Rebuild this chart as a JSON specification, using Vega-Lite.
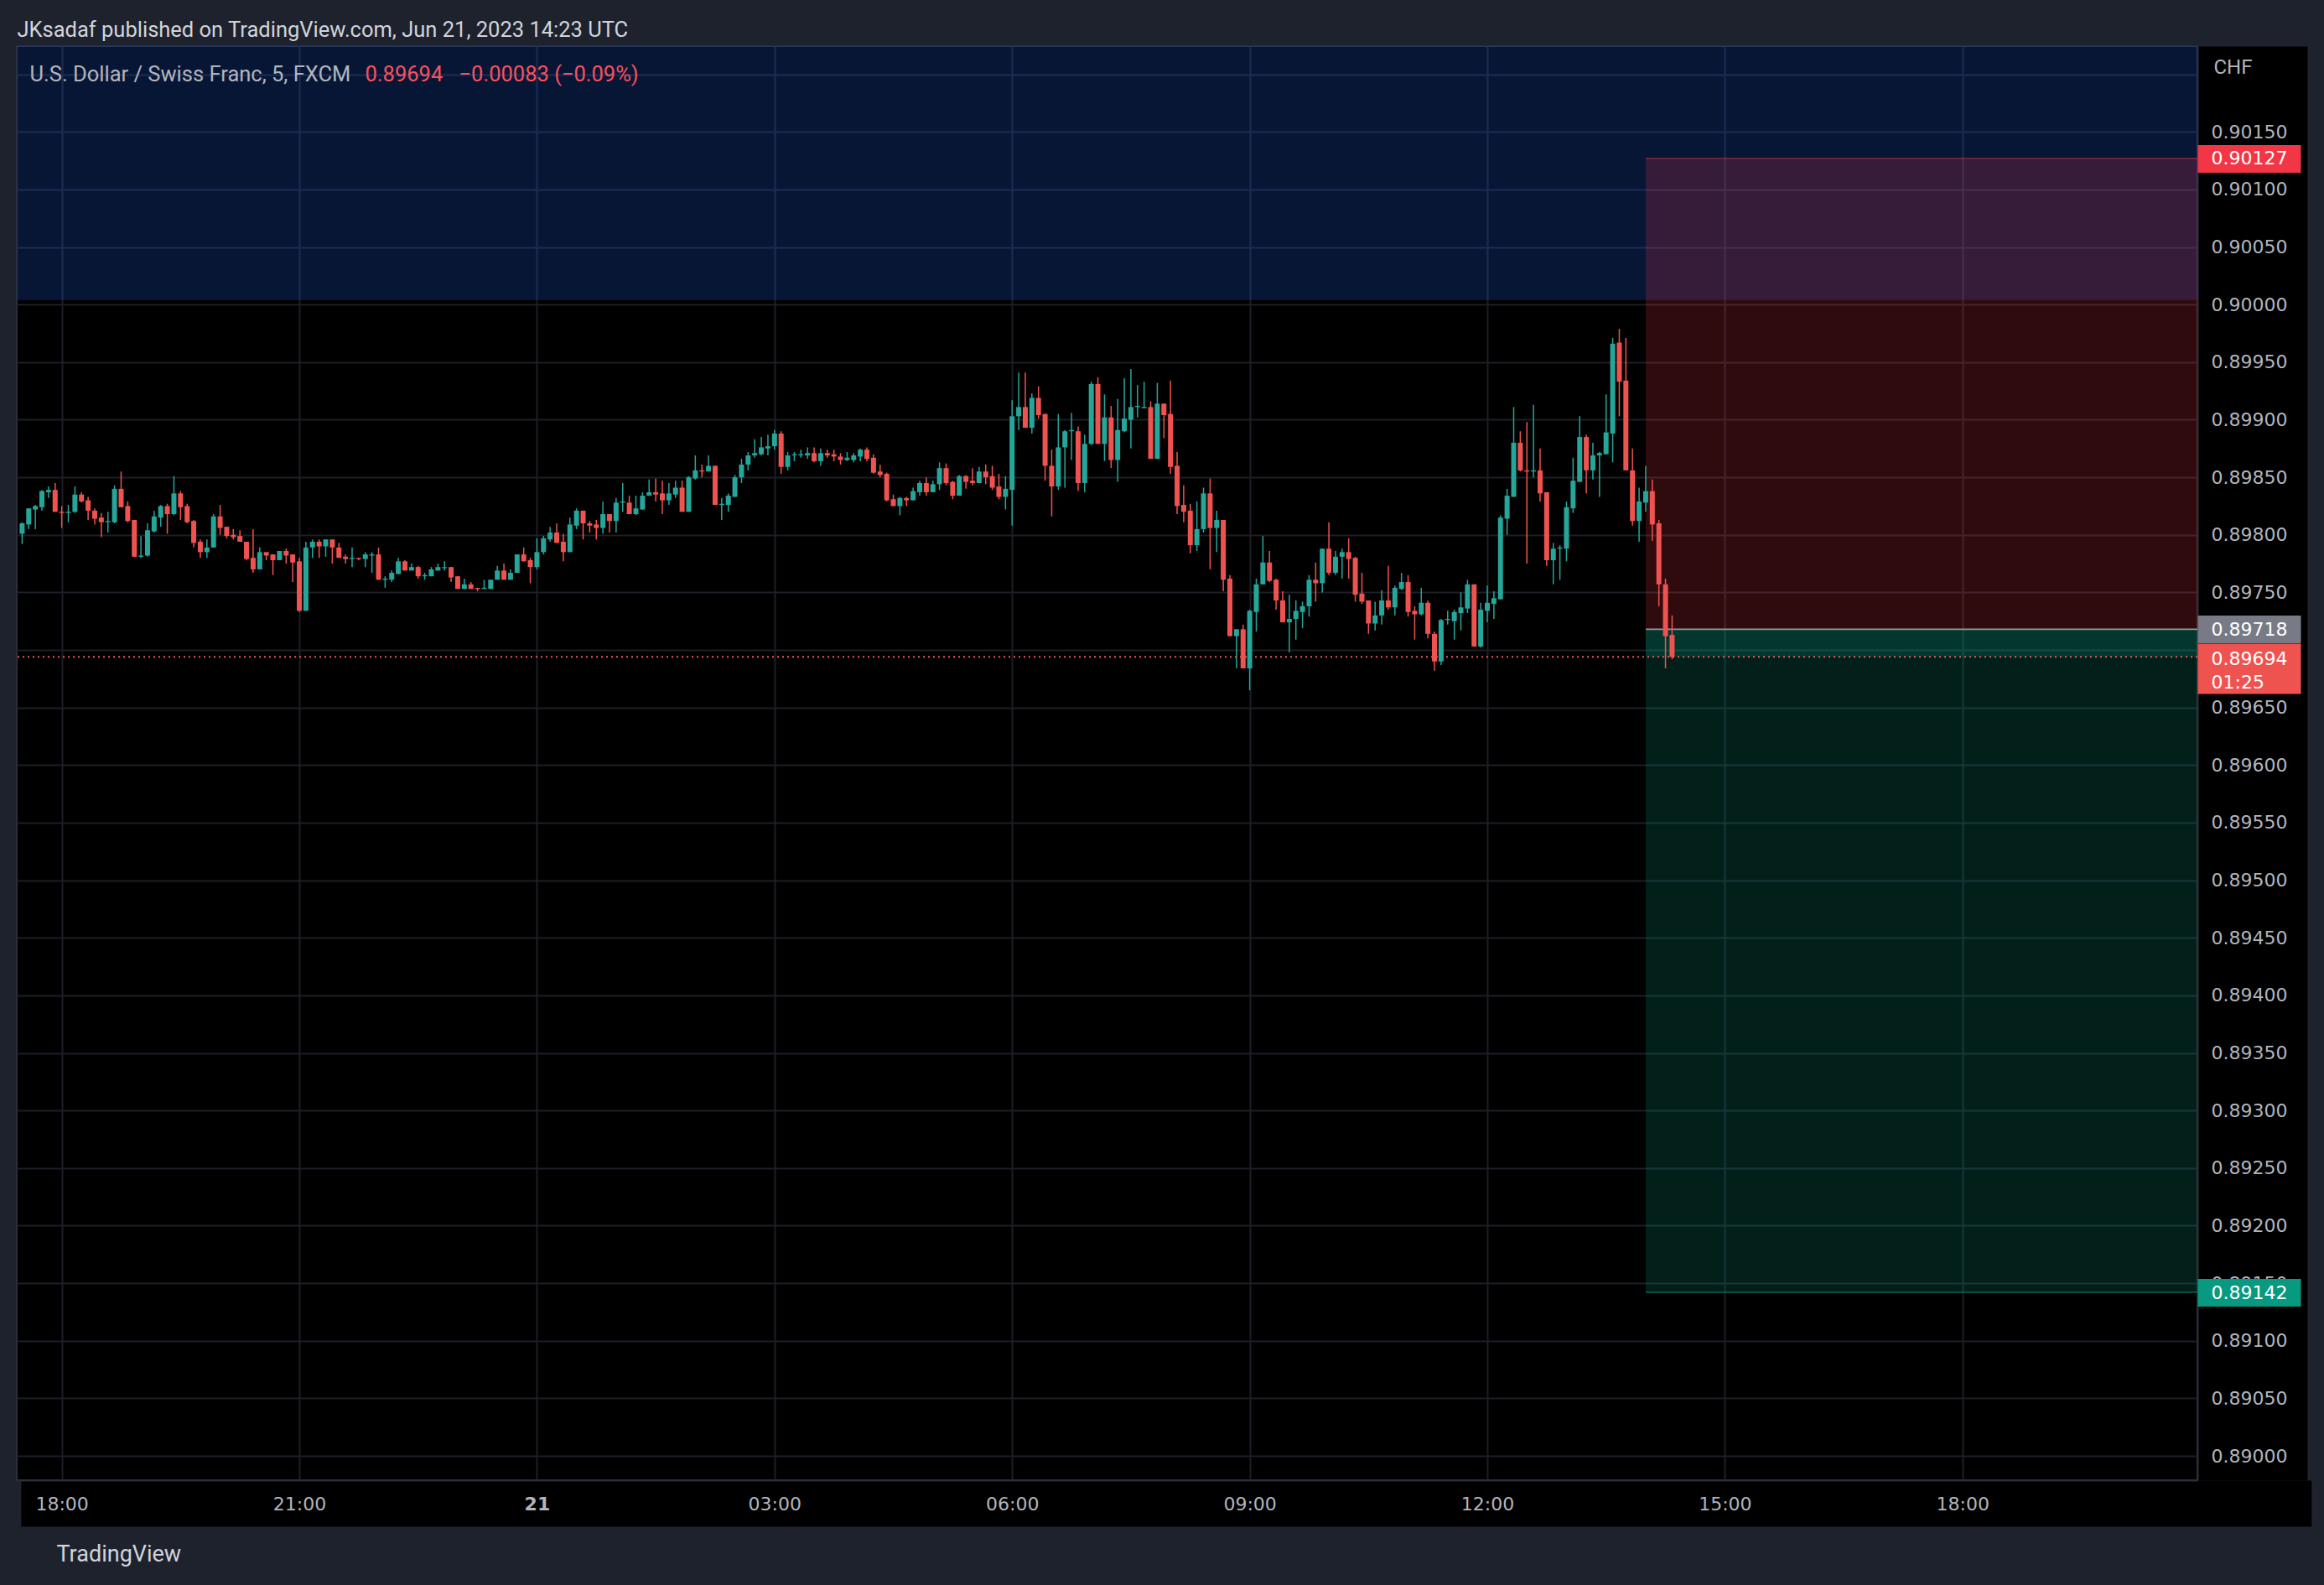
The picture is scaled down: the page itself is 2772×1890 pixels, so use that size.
{
"$schema": "https://vega.github.io/schema/vega-lite/v6.json",
"width": 2601,
"height": 1710,
"autosize": {"type": "none"},
"padding": {"left": 20, "top": 55, "right": 151, "bottom": 125},
"background": "#1e222d",
"config": {
  "view": {"fill": "#000000", "stroke": "#2a2e39", "strokeWidth": 2},
  "axis": {"labelFont": "DejaVu Sans", "labelFontSize": 22, "labelColor": "#b2b5be", "titleFont": "Roboto", "titleFontWeight": "normal", "labelOverlap": false, "labelFlush": false, "labelBound": false}
},
"resolve": {"axis": {"x": "independent", "y": "independent"}, "scale": {"x": "shared", "y": "shared"}},
"datasets": {
  "zones": [
    {"zone": "blue", "t1": "2023-06-20T12:00Z", "t2": "2023-06-22T06:00Z", "p1": 0.90004, "p2": 0.9035},
    {"zone": "stop", "t1": "2023-06-21T14:00Z", "t2": "2023-06-22T06:00Z", "p1": 0.89718, "p2": 0.90127},
    {"zone": "target", "t1": "2023-06-21T14:00Z", "t2": "2023-06-22T06:00Z", "p1": 0.89142, "p2": 0.89718},
    {"zone": "profit", "t1": "2023-06-21T14:00Z", "t2": "2023-06-22T06:00Z", "p1": 0.89694, "p2": 0.89718}
  ],
  "lines": [
    {"kind": "stop", "t1": "2023-06-21T14:00Z", "t2": "2023-06-22T06:00Z", "p": 0.90127},
    {"kind": "entry", "t1": "2023-06-21T14:00Z", "t2": "2023-06-22T06:00Z", "p": 0.89718},
    {"kind": "target", "t1": "2023-06-21T14:00Z", "t2": "2023-06-22T06:00Z", "p": 0.89142}
  ],
  "last": [{"p": 0.89694}],
  "candles": [
{"t":"2023-06-20T17:30Z","o":0.89801,"h":0.89811,"l":0.89792,"c":0.89810},
{"t":"2023-06-20T17:35Z","o":0.89809,"h":0.89823,"l":0.89805,"c":0.89823},
{"t":"2023-06-20T17:40Z","o":0.89822,"h":0.89826,"l":0.89805,"c":0.89825},
{"t":"2023-06-20T17:45Z","o":0.89824,"h":0.89839,"l":0.89821,"c":0.89838},
{"t":"2023-06-20T17:50Z","o":0.89837,"h":0.89842,"l":0.89832,"c":0.89839},
{"t":"2023-06-20T17:55Z","o":0.89839,"h":0.89845,"l":0.89820,"c":0.89820},
{"t":"2023-06-20T18:00Z","o":0.89820,"h":0.89825,"l":0.89806,"c":0.89819},
{"t":"2023-06-20T18:05Z","o":0.89819,"h":0.89826,"l":0.89811,"c":0.89820},
{"t":"2023-06-20T18:10Z","o":0.89820,"h":0.89842,"l":0.89819,"c":0.89835},
{"t":"2023-06-20T18:15Z","o":0.89835,"h":0.89837,"l":0.89828,"c":0.89829},
{"t":"2023-06-20T18:20Z","o":0.89830,"h":0.89833,"l":0.89813,"c":0.89821},
{"t":"2023-06-20T18:25Z","o":0.89821,"h":0.89823,"l":0.89809,"c":0.89814},
{"t":"2023-06-20T18:30Z","o":0.89815,"h":0.89819,"l":0.89798,"c":0.89811},
{"t":"2023-06-20T18:35Z","o":0.89811,"h":0.89820,"l":0.89802,"c":0.89812},
{"t":"2023-06-20T18:40Z","o":0.89811,"h":0.89843,"l":0.89810,"c":0.89840},
{"t":"2023-06-20T18:45Z","o":0.89840,"h":0.89855,"l":0.89824,"c":0.89824},
{"t":"2023-06-20T18:50Z","o":0.89825,"h":0.89829,"l":0.89811,"c":0.89812},
{"t":"2023-06-20T18:55Z","o":0.89813,"h":0.89813,"l":0.89781,"c":0.89781},
{"t":"2023-06-20T19:00Z","o":0.89781,"h":0.89799,"l":0.89780,"c":0.89782},
{"t":"2023-06-20T19:05Z","o":0.89782,"h":0.89810,"l":0.89781,"c":0.89804},
{"t":"2023-06-20T19:10Z","o":0.89803,"h":0.89821,"l":0.89802,"c":0.89816},
{"t":"2023-06-20T19:15Z","o":0.89815,"h":0.89826,"l":0.89807,"c":0.89825},
{"t":"2023-06-20T19:20Z","o":0.89825,"h":0.89827,"l":0.89801,"c":0.89818},
{"t":"2023-06-20T19:25Z","o":0.89818,"h":0.89851,"l":0.89817,"c":0.89836},
{"t":"2023-06-20T19:30Z","o":0.89836,"h":0.89838,"l":0.89813,"c":0.89824},
{"t":"2023-06-20T19:35Z","o":0.89825,"h":0.89827,"l":0.89810,"c":0.89811},
{"t":"2023-06-20T19:40Z","o":0.89812,"h":0.89813,"l":0.89789,"c":0.89793},
{"t":"2023-06-20T19:45Z","o":0.89794,"h":0.89796,"l":0.89780,"c":0.89785},
{"t":"2023-06-20T19:50Z","o":0.89785,"h":0.89796,"l":0.89780,"c":0.89789},
{"t":"2023-06-20T19:55Z","o":0.89789,"h":0.89818,"l":0.89789,"c":0.89816},
{"t":"2023-06-20T20:00Z","o":0.89816,"h":0.89826,"l":0.89800,"c":0.89806},
{"t":"2023-06-20T20:05Z","o":0.89807,"h":0.89807,"l":0.89797,"c":0.89799},
{"t":"2023-06-20T20:10Z","o":0.89800,"h":0.89805,"l":0.89796,"c":0.89798},
{"t":"2023-06-20T20:15Z","o":0.89799,"h":0.89804,"l":0.89794,"c":0.89794},
{"t":"2023-06-20T20:20Z","o":0.89794,"h":0.89794,"l":0.89778,"c":0.89779},
{"t":"2023-06-20T20:25Z","o":0.89780,"h":0.89805,"l":0.89767,"c":0.89770},
{"t":"2023-06-20T20:30Z","o":0.89770,"h":0.89789,"l":0.89770,"c":0.89785},
{"t":"2023-06-20T20:35Z","o":0.89785,"h":0.89785,"l":0.89778,"c":0.89782},
{"t":"2023-06-20T20:40Z","o":0.89783,"h":0.89783,"l":0.89765,"c":0.89778},
{"t":"2023-06-20T20:45Z","o":0.89778,"h":0.89786,"l":0.89778,"c":0.89786},
{"t":"2023-06-20T20:50Z","o":0.89786,"h":0.89788,"l":0.89775,"c":0.89782},
{"t":"2023-06-20T20:55Z","o":0.89783,"h":0.89783,"l":0.89759,"c":0.89776},
{"t":"2023-06-20T21:00Z","o":0.89777,"h":0.89780,"l":0.89733,"c":0.89734},
{"t":"2023-06-20T21:05Z","o":0.89734,"h":0.89794,"l":0.89734,"c":0.89789},
{"t":"2023-06-20T21:10Z","o":0.89789,"h":0.89796,"l":0.89780,"c":0.89794},
{"t":"2023-06-20T21:15Z","o":0.89794,"h":0.89796,"l":0.89780,"c":0.89790},
{"t":"2023-06-20T21:20Z","o":0.89790,"h":0.89796,"l":0.89781,"c":0.89796},
{"t":"2023-06-20T21:25Z","o":0.89796,"h":0.89796,"l":0.89775,"c":0.89789},
{"t":"2023-06-20T21:30Z","o":0.89789,"h":0.89793,"l":0.89780,"c":0.89780},
{"t":"2023-06-20T21:35Z","o":0.89781,"h":0.89783,"l":0.89775,"c":0.89779},
{"t":"2023-06-20T21:40Z","o":0.89779,"h":0.89789,"l":0.89772,"c":0.89780},
{"t":"2023-06-20T21:45Z","o":0.89780,"h":0.89780,"l":0.89778,"c":0.89779},
{"t":"2023-06-20T21:50Z","o":0.89779,"h":0.89785,"l":0.89772,"c":0.89783},
{"t":"2023-06-20T21:55Z","o":0.89782,"h":0.89785,"l":0.89767,"c":0.89783},
{"t":"2023-06-20T22:00Z","o":0.89783,"h":0.89789,"l":0.89761,"c":0.89761},
{"t":"2023-06-20T22:05Z","o":0.89761,"h":0.89764,"l":0.89754,"c":0.89762},
{"t":"2023-06-20T22:10Z","o":0.89761,"h":0.89769,"l":0.89759,"c":0.89767},
{"t":"2023-06-20T22:15Z","o":0.89766,"h":0.89780,"l":0.89766,"c":0.89777},
{"t":"2023-06-20T22:20Z","o":0.89777,"h":0.89778,"l":0.89769,"c":0.89769},
{"t":"2023-06-20T22:25Z","o":0.89769,"h":0.89775,"l":0.89769,"c":0.89772},
{"t":"2023-06-20T22:30Z","o":0.89772,"h":0.89773,"l":0.89762,"c":0.89764},
{"t":"2023-06-20T22:35Z","o":0.89764,"h":0.89767,"l":0.89761,"c":0.89765},
{"t":"2023-06-20T22:40Z","o":0.89764,"h":0.89772,"l":0.89764,"c":0.89770},
{"t":"2023-06-20T22:45Z","o":0.89769,"h":0.89775,"l":0.89769,"c":0.89772},
{"t":"2023-06-20T22:50Z","o":0.89771,"h":0.89777,"l":0.89769,"c":0.89772},
{"t":"2023-06-20T22:55Z","o":0.89772,"h":0.89772,"l":0.89759,"c":0.89763},
{"t":"2023-06-20T23:00Z","o":0.89764,"h":0.89764,"l":0.89753,"c":0.89753},
{"t":"2023-06-20T23:05Z","o":0.89753,"h":0.89762,"l":0.89753,"c":0.89757},
{"t":"2023-06-20T23:10Z","o":0.89757,"h":0.89759,"l":0.89753,"c":0.89753},
{"t":"2023-06-20T23:15Z","o":0.89754,"h":0.89754,"l":0.89751,"c":0.89753},
{"t":"2023-06-20T23:20Z","o":0.89753,"h":0.89761,"l":0.89753,"c":0.89754},
{"t":"2023-06-20T23:25Z","o":0.89753,"h":0.89761,"l":0.89753,"c":0.89761},
{"t":"2023-06-20T23:30Z","o":0.89761,"h":0.89773,"l":0.89761,"c":0.89769},
{"t":"2023-06-20T23:35Z","o":0.89769,"h":0.89775,"l":0.89761,"c":0.89761},
{"t":"2023-06-20T23:40Z","o":0.89761,"h":0.89770,"l":0.89761,"c":0.89767},
{"t":"2023-06-20T23:45Z","o":0.89767,"h":0.89783,"l":0.89767,"c":0.89783},
{"t":"2023-06-20T23:50Z","o":0.89783,"h":0.89789,"l":0.89777,"c":0.89777},
{"t":"2023-06-20T23:55Z","o":0.89778,"h":0.89780,"l":0.89758,"c":0.89772},
{"t":"2023-06-21T00:00Z","o":0.89772,"h":0.89797,"l":0.89770,"c":0.89785},
{"t":"2023-06-21T00:05Z","o":0.89785,"h":0.89799,"l":0.89783,"c":0.89797},
{"t":"2023-06-21T00:10Z","o":0.89796,"h":0.89807,"l":0.89794,"c":0.89802},
{"t":"2023-06-21T00:15Z","o":0.89802,"h":0.89810,"l":0.89793,"c":0.89793},
{"t":"2023-06-21T00:20Z","o":0.89794,"h":0.89801,"l":0.89777,"c":0.89785},
{"t":"2023-06-21T00:25Z","o":0.89785,"h":0.89815,"l":0.89785,"c":0.89809},
{"t":"2023-06-21T00:30Z","o":0.89808,"h":0.89823,"l":0.89805,"c":0.89821},
{"t":"2023-06-21T00:35Z","o":0.89821,"h":0.89821,"l":0.89796,"c":0.89810},
{"t":"2023-06-21T00:40Z","o":0.89810,"h":0.89812,"l":0.89802,"c":0.89808},
{"t":"2023-06-21T00:45Z","o":0.89809,"h":0.89813,"l":0.89796,"c":0.89806},
{"t":"2023-06-21T00:50Z","o":0.89806,"h":0.89829,"l":0.89801,"c":0.89818},
{"t":"2023-06-21T00:55Z","o":0.89818,"h":0.89818,"l":0.89802,"c":0.89812},
{"t":"2023-06-21T01:00Z","o":0.89812,"h":0.89832,"l":0.89802,"c":0.89828},
{"t":"2023-06-21T01:05Z","o":0.89828,"h":0.89845,"l":0.89820,"c":0.89829},
{"t":"2023-06-21T01:10Z","o":0.89828,"h":0.89834,"l":0.89818,"c":0.89818},
{"t":"2023-06-21T01:15Z","o":0.89818,"h":0.89834,"l":0.89817,"c":0.89823},
{"t":"2023-06-21T01:20Z","o":0.89822,"h":0.89837,"l":0.89822,"c":0.89834},
{"t":"2023-06-21T01:25Z","o":0.89834,"h":0.89848,"l":0.89834,"c":0.89837},
{"t":"2023-06-21T01:30Z","o":0.89837,"h":0.89849,"l":0.89829,"c":0.89835},
{"t":"2023-06-21T01:35Z","o":0.89836,"h":0.89847,"l":0.89818,"c":0.89830},
{"t":"2023-06-21T01:40Z","o":0.89830,"h":0.89845,"l":0.89826,"c":0.89836},
{"t":"2023-06-21T01:45Z","o":0.89835,"h":0.89847,"l":0.89832,"c":0.89841},
{"t":"2023-06-21T01:50Z","o":0.89841,"h":0.89847,"l":0.89820,"c":0.89820},
{"t":"2023-06-21T01:55Z","o":0.89820,"h":0.89851,"l":0.89820,"c":0.89850},
{"t":"2023-06-21T02:00Z","o":0.89849,"h":0.89869,"l":0.89848,"c":0.89856},
{"t":"2023-06-21T02:05Z","o":0.89856,"h":0.89861,"l":0.89850,"c":0.89855},
{"t":"2023-06-21T02:10Z","o":0.89855,"h":0.89869,"l":0.89855,"c":0.89860},
{"t":"2023-06-21T02:15Z","o":0.89860,"h":0.89860,"l":0.89826,"c":0.89826},
{"t":"2023-06-21T02:20Z","o":0.89826,"h":0.89832,"l":0.89813,"c":0.89827},
{"t":"2023-06-21T02:25Z","o":0.89826,"h":0.89836,"l":0.89820,"c":0.89834},
{"t":"2023-06-21T02:30Z","o":0.89833,"h":0.89852,"l":0.89833,"c":0.89850},
{"t":"2023-06-21T02:35Z","o":0.89850,"h":0.89866,"l":0.89845,"c":0.89861},
{"t":"2023-06-21T02:40Z","o":0.89861,"h":0.89872,"l":0.89856,"c":0.89869},
{"t":"2023-06-21T02:45Z","o":0.89869,"h":0.89883,"l":0.89867,"c":0.89871},
{"t":"2023-06-21T02:50Z","o":0.89870,"h":0.89885,"l":0.89869,"c":0.89876},
{"t":"2023-06-21T02:55Z","o":0.89875,"h":0.89887,"l":0.89869,"c":0.89877},
{"t":"2023-06-21T03:00Z","o":0.89877,"h":0.89891,"l":0.89874,"c":0.89888},
{"t":"2023-06-21T03:05Z","o":0.89888,"h":0.89890,"l":0.89853,"c":0.89859},
{"t":"2023-06-21T03:10Z","o":0.89859,"h":0.89872,"l":0.89856,"c":0.89869},
{"t":"2023-06-21T03:15Z","o":0.89869,"h":0.89872,"l":0.89864,"c":0.89870},
{"t":"2023-06-21T03:20Z","o":0.89869,"h":0.89874,"l":0.89867,"c":0.89870},
{"t":"2023-06-21T03:25Z","o":0.89869,"h":0.89876,"l":0.89866,"c":0.89871},
{"t":"2023-06-21T03:30Z","o":0.89871,"h":0.89876,"l":0.89863,"c":0.89864},
{"t":"2023-06-21T03:35Z","o":0.89864,"h":0.89875,"l":0.89860,"c":0.89871},
{"t":"2023-06-21T03:40Z","o":0.89871,"h":0.89874,"l":0.89867,"c":0.89869},
{"t":"2023-06-21T03:45Z","o":0.89870,"h":0.89874,"l":0.89864,"c":0.89868},
{"t":"2023-06-21T03:50Z","o":0.89868,"h":0.89871,"l":0.89861,"c":0.89865},
{"t":"2023-06-21T03:55Z","o":0.89865,"h":0.89872,"l":0.89864,"c":0.89867},
{"t":"2023-06-21T04:00Z","o":0.89865,"h":0.89871,"l":0.89863,"c":0.89869},
{"t":"2023-06-21T04:05Z","o":0.89868,"h":0.89875,"l":0.89864,"c":0.89874},
{"t":"2023-06-21T04:10Z","o":0.89874,"h":0.89876,"l":0.89864,"c":0.89866},
{"t":"2023-06-21T04:15Z","o":0.89867,"h":0.89870,"l":0.89853,"c":0.89854},
{"t":"2023-06-21T04:20Z","o":0.89855,"h":0.89861,"l":0.89850,"c":0.89852},
{"t":"2023-06-21T04:25Z","o":0.89853,"h":0.89854,"l":0.89829,"c":0.89830},
{"t":"2023-06-21T04:30Z","o":0.89831,"h":0.89835,"l":0.89825,"c":0.89825},
{"t":"2023-06-21T04:35Z","o":0.89825,"h":0.89833,"l":0.89817,"c":0.89832},
{"t":"2023-06-21T04:40Z","o":0.89832,"h":0.89833,"l":0.89825,"c":0.89830},
{"t":"2023-06-21T04:45Z","o":0.89830,"h":0.89841,"l":0.89830,"c":0.89838},
{"t":"2023-06-21T04:50Z","o":0.89837,"h":0.89847,"l":0.89834,"c":0.89845},
{"t":"2023-06-21T04:55Z","o":0.89845,"h":0.89850,"l":0.89834,"c":0.89837},
{"t":"2023-06-21T05:00Z","o":0.89837,"h":0.89847,"l":0.89837,"c":0.89844},
{"t":"2023-06-21T05:05Z","o":0.89844,"h":0.89863,"l":0.89839,"c":0.89858},
{"t":"2023-06-21T05:10Z","o":0.89858,"h":0.89862,"l":0.89843,"c":0.89845},
{"t":"2023-06-21T05:15Z","o":0.89846,"h":0.89847,"l":0.89831,"c":0.89834},
{"t":"2023-06-21T05:20Z","o":0.89834,"h":0.89852,"l":0.89834,"c":0.89851},
{"t":"2023-06-21T05:25Z","o":0.89851,"h":0.89852,"l":0.89840,"c":0.89846},
{"t":"2023-06-21T05:30Z","o":0.89847,"h":0.89858,"l":0.89843,"c":0.89845},
{"t":"2023-06-21T05:35Z","o":0.89845,"h":0.89859,"l":0.89845,"c":0.89855},
{"t":"2023-06-21T05:40Z","o":0.89855,"h":0.89861,"l":0.89844,"c":0.89850},
{"t":"2023-06-21T05:45Z","o":0.89851,"h":0.89860,"l":0.89839,"c":0.89841},
{"t":"2023-06-21T05:50Z","o":0.89842,"h":0.89853,"l":0.89831,"c":0.89833},
{"t":"2023-06-21T05:55Z","o":0.89833,"h":0.89851,"l":0.89822,"c":0.89840},
{"t":"2023-06-21T06:00Z","o":0.89839,"h":0.89917,"l":0.89808,"c":0.89903},
{"t":"2023-06-21T06:05Z","o":0.89903,"h":0.89941,"l":0.89891,"c":0.89911},
{"t":"2023-06-21T06:10Z","o":0.89911,"h":0.89941,"l":0.89893,"c":0.89893},
{"t":"2023-06-21T06:15Z","o":0.89893,"h":0.89923,"l":0.89888,"c":0.89919},
{"t":"2023-06-21T06:20Z","o":0.89919,"h":0.89929,"l":0.89901,"c":0.89904},
{"t":"2023-06-21T06:25Z","o":0.89905,"h":0.89905,"l":0.89847,"c":0.89860},
{"t":"2023-06-21T06:30Z","o":0.89860,"h":0.89874,"l":0.89816,"c":0.89842},
{"t":"2023-06-21T06:35Z","o":0.89842,"h":0.89905,"l":0.89839,"c":0.89876},
{"t":"2023-06-21T06:40Z","o":0.89876,"h":0.89891,"l":0.89841,"c":0.89890},
{"t":"2023-06-21T06:45Z","o":0.89890,"h":0.89906,"l":0.89865,"c":0.89891},
{"t":"2023-06-21T06:50Z","o":0.89890,"h":0.89894,"l":0.89838,"c":0.89845},
{"t":"2023-06-21T06:55Z","o":0.89845,"h":0.89887,"l":0.89837,"c":0.89879},
{"t":"2023-06-21T07:00Z","o":0.89879,"h":0.89933,"l":0.89878,"c":0.89931},
{"t":"2023-06-21T07:05Z","o":0.89931,"h":0.89937,"l":0.89879,"c":0.89879},
{"t":"2023-06-21T07:10Z","o":0.89879,"h":0.89922,"l":0.89864,"c":0.89902},
{"t":"2023-06-21T07:15Z","o":0.89902,"h":0.89912,"l":0.89858,"c":0.89865},
{"t":"2023-06-21T07:20Z","o":0.89865,"h":0.89918,"l":0.89846,"c":0.89891},
{"t":"2023-06-21T07:25Z","o":0.89890,"h":0.89936,"l":0.89889,"c":0.89901},
{"t":"2023-06-21T07:30Z","o":0.89900,"h":0.89944,"l":0.89875,"c":0.89911},
{"t":"2023-06-21T07:35Z","o":0.89911,"h":0.89930,"l":0.89902,"c":0.89912},
{"t":"2023-06-21T07:40Z","o":0.89910,"h":0.89933,"l":0.89910,"c":0.89911},
{"t":"2023-06-21T07:45Z","o":0.89911,"h":0.89916,"l":0.89866,"c":0.89866},
{"t":"2023-06-21T07:50Z","o":0.89866,"h":0.89932,"l":0.89866,"c":0.89914},
{"t":"2023-06-21T07:55Z","o":0.89914,"h":0.89914,"l":0.89884,"c":0.89904},
{"t":"2023-06-21T08:00Z","o":0.89905,"h":0.89934,"l":0.89853,"c":0.89859},
{"t":"2023-06-21T08:05Z","o":0.89860,"h":0.89872,"l":0.89818,"c":0.89825},
{"t":"2023-06-21T08:10Z","o":0.89826,"h":0.89843,"l":0.89811,"c":0.89820},
{"t":"2023-06-21T08:15Z","o":0.89821,"h":0.89827,"l":0.89784,"c":0.89791},
{"t":"2023-06-21T08:20Z","o":0.89791,"h":0.89829,"l":0.89786,"c":0.89805},
{"t":"2023-06-21T08:25Z","o":0.89805,"h":0.89841,"l":0.89802,"c":0.89836},
{"t":"2023-06-21T08:30Z","o":0.89836,"h":0.89849,"l":0.89770,"c":0.89806},
{"t":"2023-06-21T08:35Z","o":0.89806,"h":0.89821,"l":0.89785,"c":0.89813},
{"t":"2023-06-21T08:40Z","o":0.89813,"h":0.89813,"l":0.89751,"c":0.89761},
{"t":"2023-06-21T08:45Z","o":0.89762,"h":0.89765,"l":0.89712,"c":0.89712},
{"t":"2023-06-21T08:50Z","o":0.89712,"h":0.89718,"l":0.89684,"c":0.89718},
{"t":"2023-06-21T08:55Z","o":0.89718,"h":0.89722,"l":0.89684,"c":0.89684},
{"t":"2023-06-21T09:00Z","o":0.89684,"h":0.89735,"l":0.89665,"c":0.89734},
{"t":"2023-06-21T09:05Z","o":0.89733,"h":0.89762,"l":0.89716,"c":0.89757},
{"t":"2023-06-21T09:10Z","o":0.89757,"h":0.89799,"l":0.89757,"c":0.89776},
{"t":"2023-06-21T09:15Z","o":0.89776,"h":0.89786,"l":0.89759,"c":0.89760},
{"t":"2023-06-21T09:20Z","o":0.89761,"h":0.89762,"l":0.89735,"c":0.89743},
{"t":"2023-06-21T09:25Z","o":0.89743,"h":0.89751,"l":0.89724,"c":0.89724},
{"t":"2023-06-21T09:30Z","o":0.89724,"h":0.89748,"l":0.89698,"c":0.89727},
{"t":"2023-06-21T09:35Z","o":0.89727,"h":0.89743,"l":0.89709,"c":0.89734},
{"t":"2023-06-21T09:40Z","o":0.89733,"h":0.89742,"l":0.89719,"c":0.89738},
{"t":"2023-06-21T09:45Z","o":0.89738,"h":0.89765,"l":0.89729,"c":0.89761},
{"t":"2023-06-21T09:50Z","o":0.89761,"h":0.89776,"l":0.89742,"c":0.89758},
{"t":"2023-06-21T09:55Z","o":0.89758,"h":0.89788,"l":0.89750,"c":0.89788},
{"t":"2023-06-21T10:00Z","o":0.89788,"h":0.89811,"l":0.89765,"c":0.89767},
{"t":"2023-06-21T10:05Z","o":0.89767,"h":0.89786,"l":0.89765,"c":0.89781},
{"t":"2023-06-21T10:10Z","o":0.89781,"h":0.89788,"l":0.89762,"c":0.89785},
{"t":"2023-06-21T10:15Z","o":0.89785,"h":0.89797,"l":0.89762,"c":0.89779},
{"t":"2023-06-21T10:20Z","o":0.89780,"h":0.89781,"l":0.89742,"c":0.89748},
{"t":"2023-06-21T10:25Z","o":0.89749,"h":0.89767,"l":0.89740,"c":0.89742},
{"t":"2023-06-21T10:30Z","o":0.89743,"h":0.89743,"l":0.89714,"c":0.89723},
{"t":"2023-06-21T10:35Z","o":0.89723,"h":0.89742,"l":0.89717,"c":0.89730},
{"t":"2023-06-21T10:40Z","o":0.89730,"h":0.89752,"l":0.89722,"c":0.89743},
{"t":"2023-06-21T10:45Z","o":0.89743,"h":0.89773,"l":0.89735,"c":0.89737},
{"t":"2023-06-21T10:50Z","o":0.89737,"h":0.89756,"l":0.89730,"c":0.89754},
{"t":"2023-06-21T10:55Z","o":0.89753,"h":0.89767,"l":0.89752,"c":0.89759},
{"t":"2023-06-21T11:00Z","o":0.89759,"h":0.89765,"l":0.89729,"c":0.89733},
{"t":"2023-06-21T11:05Z","o":0.89734,"h":0.89738,"l":0.89709,"c":0.89731},
{"t":"2023-06-21T11:10Z","o":0.89731,"h":0.89754,"l":0.89730,"c":0.89741},
{"t":"2023-06-21T11:15Z","o":0.89741,"h":0.89743,"l":0.89710,"c":0.89714},
{"t":"2023-06-21T11:20Z","o":0.89714,"h":0.89716,"l":0.89682,"c":0.89690},
{"t":"2023-06-21T11:25Z","o":0.89690,"h":0.89727,"l":0.89687,"c":0.89726},
{"t":"2023-06-21T11:30Z","o":0.89726,"h":0.89734,"l":0.89722,"c":0.89727},
{"t":"2023-06-21T11:35Z","o":0.89725,"h":0.89735,"l":0.89709,"c":0.89733},
{"t":"2023-06-21T11:40Z","o":0.89732,"h":0.89750,"l":0.89717,"c":0.89737},
{"t":"2023-06-21T11:45Z","o":0.89736,"h":0.89761,"l":0.89732,"c":0.89757},
{"t":"2023-06-21T11:50Z","o":0.89757,"h":0.89757,"l":0.89703,"c":0.89703},
{"t":"2023-06-21T11:55Z","o":0.89703,"h":0.89741,"l":0.89702,"c":0.89735},
{"t":"2023-06-21T12:00Z","o":0.89734,"h":0.89756,"l":0.89724,"c":0.89741},
{"t":"2023-06-21T12:05Z","o":0.89740,"h":0.89751,"l":0.89727,"c":0.89745},
{"t":"2023-06-21T12:10Z","o":0.89744,"h":0.89817,"l":0.89744,"c":0.89815},
{"t":"2023-06-21T12:15Z","o":0.89814,"h":0.89840,"l":0.89800,"c":0.89834},
{"t":"2023-06-21T12:20Z","o":0.89833,"h":0.89911,"l":0.89833,"c":0.89880},
{"t":"2023-06-21T12:25Z","o":0.89880,"h":0.89890,"l":0.89855,"c":0.89856},
{"t":"2023-06-21T12:30Z","o":0.89856,"h":0.89898,"l":0.89775,"c":0.89855},
{"t":"2023-06-21T12:35Z","o":0.89855,"h":0.89913,"l":0.89850,"c":0.89856},
{"t":"2023-06-21T12:40Z","o":0.89856,"h":0.89875,"l":0.89829,"c":0.89836},
{"t":"2023-06-21T12:45Z","o":0.89837,"h":0.89837,"l":0.89773,"c":0.89778},
{"t":"2023-06-21T12:50Z","o":0.89778,"h":0.89793,"l":0.89757,"c":0.89788},
{"t":"2023-06-21T12:55Z","o":0.89788,"h":0.89791,"l":0.89761,"c":0.89789},
{"t":"2023-06-21T13:00Z","o":0.89788,"h":0.89829,"l":0.89777,"c":0.89824},
{"t":"2023-06-21T13:05Z","o":0.89823,"h":0.89867,"l":0.89819,"c":0.89847},
{"t":"2023-06-21T13:10Z","o":0.89846,"h":0.89903,"l":0.89846,"c":0.89885},
{"t":"2023-06-21T13:15Z","o":0.89885,"h":0.89887,"l":0.89836,"c":0.89856},
{"t":"2023-06-21T13:20Z","o":0.89856,"h":0.89880,"l":0.89848,"c":0.89869},
{"t":"2023-06-21T13:25Z","o":0.89869,"h":0.89872,"l":0.89833,"c":0.89871},
{"t":"2023-06-21T13:30Z","o":0.89870,"h":0.89922,"l":0.89870,"c":0.89889},
{"t":"2023-06-21T13:35Z","o":0.89888,"h":0.89971,"l":0.89863,"c":0.89966},
{"t":"2023-06-21T13:40Z","o":0.89967,"h":0.89979,"l":0.89903,"c":0.89933},
{"t":"2023-06-21T13:45Z","o":0.89934,"h":0.89971,"l":0.89856,"c":0.89856},
{"t":"2023-06-21T13:50Z","o":0.89856,"h":0.89875,"l":0.89808,"c":0.89812},
{"t":"2023-06-21T13:55Z","o":0.89812,"h":0.89841,"l":0.89794,"c":0.89829},
{"t":"2023-06-21T14:00Z","o":0.89828,"h":0.89860,"l":0.89820,"c":0.89838},
{"t":"2023-06-21T14:05Z","o":0.89838,"h":0.89848,"l":0.89795,"c":0.89809},
{"t":"2023-06-21T14:10Z","o":0.89810,"h":0.89813,"l":0.89738,"c":0.89757},
{"t":"2023-06-21T14:15Z","o":0.89757,"h":0.89762,"l":0.89684,"c":0.89712},
{"t":"2023-06-21T14:20Z","o":0.89713,"h":0.89730,"l":0.89692,"c":0.89694}
  ]
},
"layer": [
  {
    "data": {"name": "zones"},
    "mark": {"type": "rect", "clip": true},
    "encoding": {
      "x": {"field": "t1", "type": "temporal",
        "scale": {"type": "utc", "domain": [{"year": 2023, "month": 6, "date": 20, "hours": 17, "minutes": 29, "seconds": 7, "utc": true}, {"year": 2023, "month": 6, "date": 21, "hours": 20, "minutes": 54, "seconds": 48, "utc": true}]},
        "axis": {"orient": "bottom", "values": [{"year": 2023, "month": 6, "date": 20, "hours": 18, "utc": true}], "ticks": true, "tickSize": 55, "tickWidth": 2732, "tickOffset": 1317.2, "tickColor": "#000000", "tickRound": false, "labels": false, "domain": false, "grid": false,
          "title": "TradingView", "titleX": 47, "titleY": 88, "titleAngle": 0, "titleAlign": "left", "titleBaseline": "middle", "titleFontSize": 27, "titleColor": "#d1d4dc", "zindex": 0}},
      "x2": {"field": "t2"},
      "y": {"field": "p1", "type": "quantitative",
        "scale": {"domain": [0.889789, 0.902245], "zero": false, "nice": false},
        "axis": {"orient": "right", "values": [0.896], "ticks": true, "tickSize": 131, "tickWidth": 1710, "tickOffset": -2.3, "tickColor": "#000000", "tickRound": false, "labels": false, "domain": false, "grid": false,
          "title": "JKsadaf published on TradingView.com, Jun 21, 2023 14:23 UTC", "titleX": -2601, "titleY": -20, "titleAngle": 0, "titleAlign": "left", "titleBaseline": "middle", "titleFontSize": 25.5, "titleColor": "#d1d4dc", "zindex": 0}},
      "y2": {"field": "p2"},
      "fill": {"field": "zone", "type": "nominal", "scale": {"domain": ["blue", "stop", "target", "profit"], "range": ["rgba(32,84,210,0.26)", "rgba(242,54,69,0.2)", "rgba(8,153,129,0.2)", "rgba(8,153,129,0.2)"]}, "legend": null}
    }
  },
  {
    "data": {"name": "lines"},
    "mark": {"type": "rule", "clip": true},
    "encoding": {
      "x": {"field": "t1", "type": "temporal",
        "scale": {"type": "utc", "domain": [{"year": 2023, "month": 6, "date": 20, "hours": 17, "minutes": 29, "seconds": 7, "utc": true}, {"year": 2023, "month": 6, "date": 21, "hours": 20, "minutes": 54, "seconds": 48, "utc": true}]},
        "axis": {"orient": "bottom",
          "values": [{"year": 2023, "month": 6, "date": 20, "hours": 18, "utc": true}, {"year": 2023, "month": 6, "date": 20, "hours": 21, "utc": true}, {"year": 2023, "month": 6, "date": 21, "hours": 0, "utc": true}, {"year": 2023, "month": 6, "date": 21, "hours": 3, "utc": true}, {"year": 2023, "month": 6, "date": 21, "hours": 6, "utc": true}, {"year": 2023, "month": 6, "date": 21, "hours": 9, "utc": true}, {"year": 2023, "month": 6, "date": 21, "hours": 12, "utc": true}, {"year": 2023, "month": 6, "date": 21, "hours": 15, "utc": true}, {"year": 2023, "month": 6, "date": 21, "hours": 18, "utc": true}],
          "labelExpr": "utchours(datum.value) == 0 ? utcFormat(datum.value, '%-d') : utcFormat(datum.value, '%H:%M')",
          "labelFontWeight": {"condition": {"test": "utchours(datum.value) == 0", "value": "bold"}, "value": "normal"},
          "labelAlign": "center", "labelBaseline": "middle", "labelPadding": 28, "ticks": false,
          "domain": true, "domainColor": "#2a2e39", "domainWidth": 2,
          "grid": true, "gridColor": "#1c1f26", "gridWidth": 2, "title": null, "zindex": 0}},
      "x2": {"field": "t2"},
      "y": {"field": "p", "type": "quantitative",
        "scale": {"domain": [0.889789, 0.902245], "zero": false, "nice": false},
        "axis": {"orient": "right",
          "values": [0.89, 0.8905, 0.891, 0.8915, 0.892, 0.8925, 0.893, 0.8935, 0.894, 0.8945, 0.895, 0.8955, 0.896, 0.8965, 0.897, 0.8975, 0.898, 0.8985, 0.899, 0.8995, 0.9, 0.9005, 0.901, 0.9015, 0.902],
          "labelExpr": "(datum.value > 0.9018 || abs(datum.value - 0.897) < 0.0001) ? '' : format(datum.value, '.5f')",
          "labelAlign": "left", "labelBaseline": "middle", "labelPadding": 16, "ticks": false,
          "domain": true, "domainColor": "#2a2e39", "domainWidth": 2,
          "grid": true, "gridColor": "#1c1f26", "gridWidth": 2,
          "title": "CHF", "titleX": 19, "titleY": 25, "titleAngle": 0, "titleAlign": "left", "titleBaseline": "middle", "titleFontSize": 24, "titleColor": "#b2b5be", "zindex": 0}},
      "stroke": {"field": "kind", "type": "nominal", "scale": {"domain": ["stop", "entry", "target"], "range": ["rgba(242,54,69,0.45)", "#9598a1", "rgba(8,153,129,0.45)"]}, "legend": null},
      "strokeWidth": {"field": "kind", "type": "nominal", "scale": {"domain": ["stop", "entry", "target"], "range": [1.5, 2, 1.5]}, "legend": null}
    }
  },
  {
    "data": {"name": "candles"},
    "mark": {"type": "rule", "clip": true, "strokeWidth": 1.5},
    "encoding": {
      "x": {"field": "t", "type": "temporal",
        "scale": {"type": "utc", "domain": [{"year": 2023, "month": 6, "date": 20, "hours": 17, "minutes": 29, "seconds": 7, "utc": true}, {"year": 2023, "month": 6, "date": 21, "hours": 20, "minutes": 54, "seconds": 48, "utc": true}]},
        "axis": {"orient": "top", "labels": false, "ticks": false, "domain": false, "grid": false,
          "title": "U.S. Dollar / Swiss Franc, 5, FXCM", "titleX": 15, "titleY": 33, "titleAngle": 0, "titleAlign": "left", "titleBaseline": "middle", "titleFontSize": 25.5, "titleColor": "#b2b5be", "zindex": 1}},
      "y": {"field": "l", "type": "quantitative",
        "scale": {"domain": [0.889789, 0.902245], "zero": false, "nice": false},
        "axis": {"orient": "right", "values": [0.90127, 0.89718, 0.89142], "ticks": true, "tickSize": 123, "tickWidth": 33,
          "tickColor": {"condition": [{"test": "datum.value > 0.9", "value": "#f23645"}, {"test": "datum.value > 0.895", "value": "#787b86"}], "value": "#089981"},
          "format": ".5f", "labelColor": "#ffffff", "labelPadding": -107, "labelAlign": "left", "labelBaseline": "middle",
          "domain": false, "grid": false, "title": null, "zindex": 0}},
      "y2": {"field": "h"},
      "color": {"condition": {"test": "datum.c >= datum.o", "value": "#26a69a"}, "value": "#ef5350"}
    }
  },
  {
    "data": {"name": "last"},
    "mark": {"type": "rule", "clip": true, "color": "#ef5350", "strokeWidth": 2, "strokeDash": [2, 4]},
    "encoding": {
      "y": {"field": "p", "type": "quantitative",
        "scale": {"domain": [0.889789, 0.902245], "zero": false, "nice": false},
        "axis": {"orient": "right", "values": [0.89694], "ticks": true, "tickSize": 123, "tickWidth": 60, "tickOffset": 13.8, "tickColor": "#ef5350",
          "labelExpr": "['0.89694', '01:25']", "labelLineHeight": 28, "labelOffset": -12, "labelColor": "#ffffff", "labelPadding": -107, "labelAlign": "left", "labelBaseline": "middle",
          "domain": false, "grid": false,
          "title": "0.89694\u2002 −0.00083 (−0.09%)", "titleX": -2186, "titleY": 33, "titleAngle": 0, "titleAlign": "left", "titleBaseline": "middle", "titleFontSize": 25.5, "titleColor": "#f7525f", "zindex": 1}}
    }
  },
  {
    "data": {"name": "candles"},
    "mark": {"type": "bar", "clip": true, "width": 6},
    "encoding": {
      "x": {"field": "t", "type": "temporal",
        "scale": {"type": "utc", "domain": [{"year": 2023, "month": 6, "date": 20, "hours": 17, "minutes": 29, "seconds": 7, "utc": true}, {"year": 2023, "month": 6, "date": 21, "hours": 20, "minutes": 54, "seconds": 48, "utc": true}]},
        "axis": null},
      "y": {"field": "o", "type": "quantitative",
        "scale": {"domain": [0.889789, 0.902245], "zero": false, "nice": false},
        "axis": null},
      "y2": {"field": "c"},
      "color": {"condition": {"test": "datum.c >= datum.o", "value": "#26a69a"}, "value": "#ef5350"}
    }
  }
]
}
